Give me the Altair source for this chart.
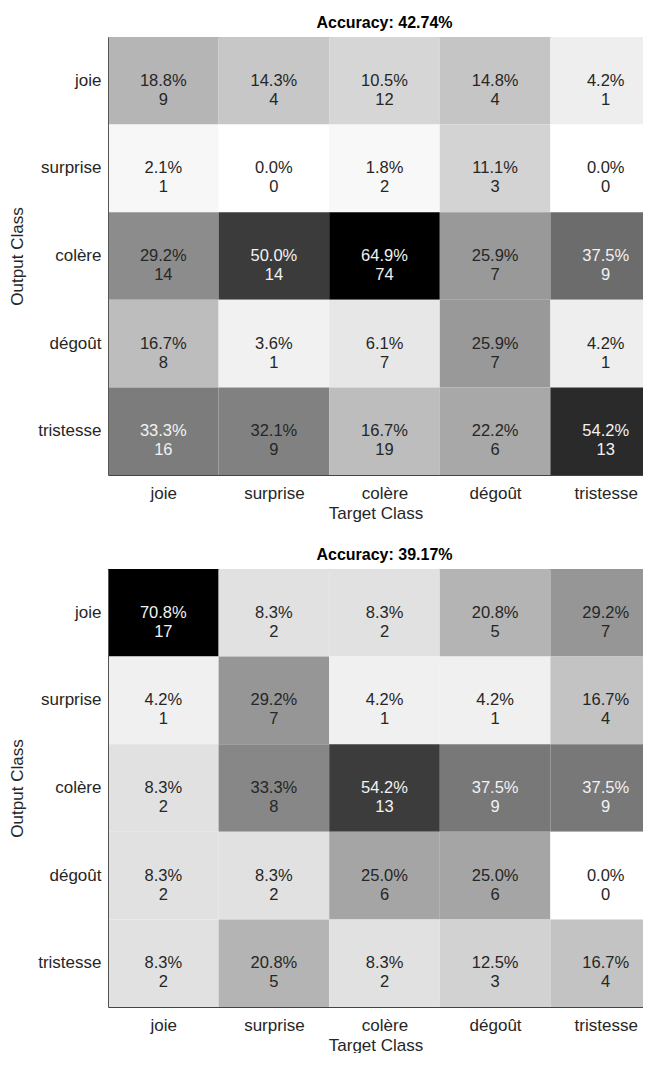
import json
import altair as alt
import pandas as pd

classes = ["joie", "surprise", "colère", "dégoût", "tristesse"]

# rows = Output Class, columns = Target Class
pct_top = [
    [18.8, 14.3, 10.5, 14.8, 4.2],
    [2.1, 0.0, 1.8, 11.1, 0.0],
    [29.2, 50.0, 64.9, 25.9, 37.5],
    [16.7, 3.6, 6.1, 25.9, 4.2],
    [33.3, 32.1, 16.7, 22.2, 54.2],
]
cnt_top = [
    [9, 4, 12, 4, 1],
    [1, 0, 2, 3, 0],
    [14, 14, 74, 7, 9],
    [8, 1, 7, 7, 1],
    [16, 9, 19, 6, 13],
]
acc_top = 42.74

pct_bot = [
    [70.8, 8.3, 8.3, 20.8, 29.2],
    [4.2, 29.2, 4.2, 4.2, 16.7],
    [8.3, 33.3, 54.2, 37.5, 37.5],
    [8.3, 8.3, 25.0, 25.0, 0.0],
    [8.3, 20.8, 8.3, 12.5, 16.7],
]
cnt_bot = [
    [17, 2, 2, 5, 7],
    [1, 7, 1, 1, 4],
    [2, 8, 13, 9, 9],
    [2, 2, 6, 6, 0],
    [2, 5, 2, 3, 4],
]
acc_bot = 39.17

FONT = "Liberation Sans"
COL_W = 110.6          # width of one target-class column
W = 535                # visible plot width (last column runs past the edge)
H = 438
XMAX = W / COL_W       # visible part of the 5-column axis

label_expr = f"{json.dumps(classes, ensure_ascii=False)}[floor(datum.value)]"


def matrix(pct, cnt, acc):
    rows = []
    for i, o in enumerate(classes):
        for j, t in enumerate(classes):
            rows.append({
                "output": o,
                "target": t,
                "col": j,
                "col_end": j + 1,
                "col_mid": j + 0.5,
                "pct": pct[i][j],
                "count": cnt[i][j],
                "label": f"{pct[i][j]:.1f}%\n{cnt[i][j]}",
            })
    df = pd.DataFrame(rows)
    pmax = max(max(r) for r in pct)

    xscale = alt.Scale(domain=[0, XMAX], nice=False, zero=False)
    yenc = alt.Y("output:N", sort=classes,
                 scale=alt.Scale(paddingInner=0, paddingOuter=0),
                 axis=alt.Axis(title="Output Class", ticks=False,
                               labelPadding=7, titlePadding=11,
                               labelFont=FONT, titleFont=FONT,
                               labelFontSize=17, titleFontSize=17,
                               labelColor="#262626", titleColor="#262626",
                               titleFontWeight="normal",
                               domainColor="#555555", domainWidth=1))

    rect = alt.Chart(df).mark_rect(clip=True).encode(
        x=alt.X("col:Q", scale=xscale,
                axis=alt.Axis(title="Target Class", orient="bottom",
                              values=[j + 0.5 for j in range(len(classes))],
                              labelExpr=label_expr, labelFlush=False,
                              labelOverlap=False, ticks=False, grid=False,
                              labelPadding=10, titlePadding=4,
                              labelFont=FONT, titleFont=FONT,
                              labelFontSize=17, titleFontSize=17,
                              labelColor="#262626", titleColor="#262626",
                              titleFontWeight="normal",
                              domainColor="#444444", domainWidth=1)),
        x2="col_end:Q",
        y=yenc,
        color=alt.Color("pct:Q",
                        scale=alt.Scale(domain=[0, pmax], range=["#ffffff", "#000000"],
                                        interpolate="rgb"),
                        legend=None),
    )
    text = alt.Chart(df).mark_text(lineBreak="\n", lineHeight=19, fontSize=16.5,
                                   font=FONT).encode(
        x=alt.X("col_mid:Q", scale=xscale,
                axis=alt.Axis(orient="top", labels=False, ticks=False, grid=False,
                              title=None, domainColor="#888888", domainWidth=1)),
        y=yenc,
        text="label:N",
        color=alt.condition(f"datum.pct > {pmax / 2}",
                            alt.value("#f2f2f2"), alt.value("#262626")),
    )
    return alt.layer(rect, text).resolve_axis(x="independent").properties(
        width=W, height=H,
        title=alt.TitleParams(f"Accuracy: {acc:.2f}%", fontSize=16, fontWeight="bold",
                              font=FONT, color="#000000", offset=6,
                              dx=(5 * COL_W - W) / 2),
    )


chart = alt.vconcat(
    matrix(pct_top, cnt_top, acc_top),
    matrix(pct_bot, cnt_bot, acc_bot),
    spacing=26,
).resolve_scale(color="independent").properties(
    padding={"left": 0, "top": 7, "right": 0, "bottom": 0},
    background="white",
).configure_view(
    stroke=None
)

chart.save("out.html", embed_options={"renderer": "svg", "actions": False})
